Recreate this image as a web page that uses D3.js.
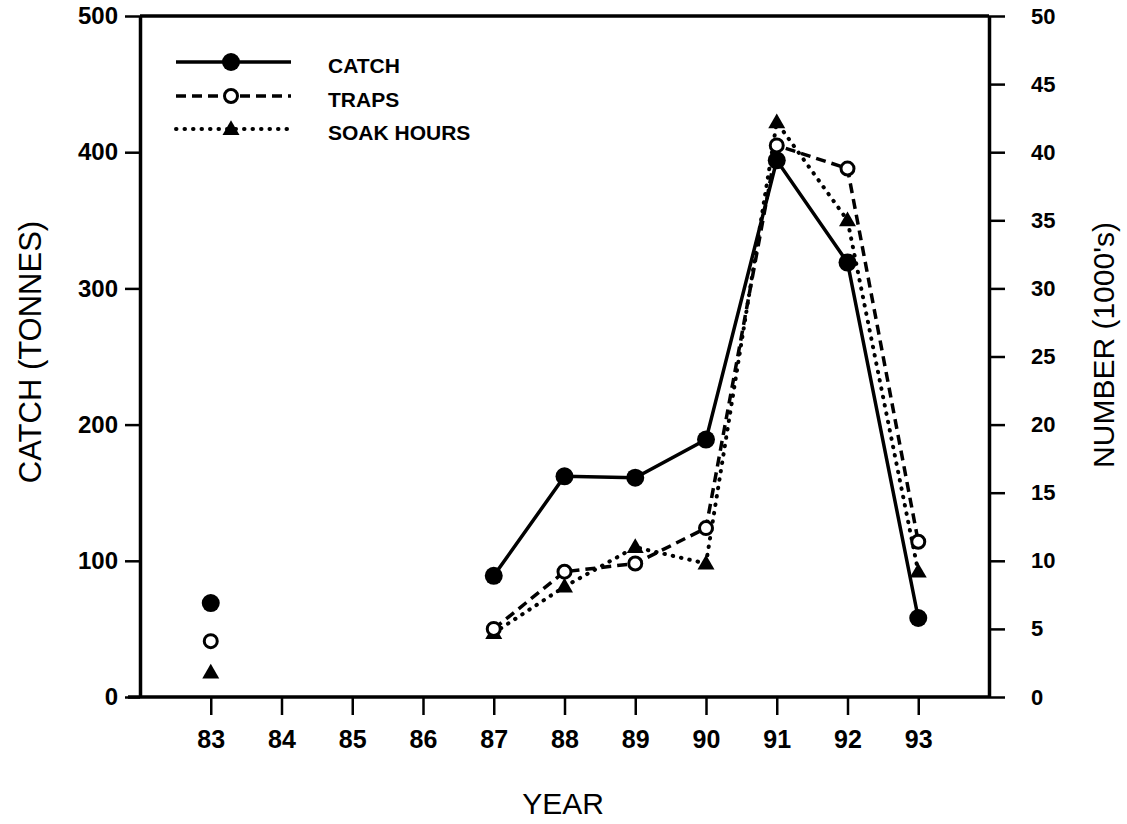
<!DOCTYPE html>
<html>
<head>
<meta charset="utf-8">
<script src="https://cdn.jsdelivr.net/npm/d3@7"></script>
<style>
  body { margin: 0; background: #fff; }
  svg { display: block; font-family: "Liberation Sans", Arial, sans-serif; }
</style>
</head>
<body>
<svg id="chart" width="1127" height="824"></svg>
<script>
// data
var years      = [83, 87, 88, 89, 90, 91, 92, 93];
var catchTons  = [69, 89, 162, 161, 189, 394, 319, 58];      // left axis, tonnes
var traps      = [4.1, 5.0, 9.2, 9.8, 12.4, 40.5, 38.8, 11.4]; // right axis, 1000's
var soakHours  = [1.8, 4.7, 8.1, 11.0, 9.8, 42.2, 35.0, 9.2]; // right axis, 1000's
var yearTicks  = [83, 84, 85, 86, 87, 88, 89, 90, 91, 92, 93];
var leftTicks  = [0, 100, 200, 300, 400, 500];
var rightTicks = [0, 5, 10, 15, 20, 25, 30, 35, 40, 45, 50];

var svg = d3.select("#chart");
var plotL = 140, plotR = 989, plotT = 16, plotB = 697;

var x = d3.scaleLinear().domain([82, 94]).range([plotL, plotR]);
var yL = d3.scaleLinear().domain([0, 500]).range([plotB, plotT]);
var yR = d3.scaleLinear().domain([0, 50]).range([plotB, plotT]);

// frame
svg.append("line").attr("x1", plotL).attr("x2", plotR).attr("y1", plotT).attr("y2", plotT)
    .attr("stroke", "#000").attr("stroke-width", 3.5);

var gL = svg.append("g").attr("transform", "translate(" + plotL + ",0)")
    .call(d3.axisLeft(yL).tickValues(leftTicks).tickSize(15).tickSizeOuter(0).tickPadding(7));
var gR = svg.append("g").attr("transform", "translate(" + plotR + ",0)")
    .call(d3.axisRight(yR).tickValues(rightTicks).tickSize(16).tickSizeOuter(0).tickPadding(26));
var gB = svg.append("g").attr("transform", "translate(0," + plotB + ")")
    .call(d3.axisBottom(x).tickValues(yearTicks).tickSize(18).tickSizeOuter(0).tickPadding(15));

[gL, gR, gB].forEach(function(g) {
    g.select(".domain").attr("stroke-width", 3.5);
    g.selectAll(".tick line").attr("stroke-width", 2.5);
    g.selectAll("text").attr("fill", "#000").style("font-weight", "bold")
        .style("font-family", "'Liberation Sans', Arial, sans-serif");
});
gL.selectAll("text").style("font-size", "24px");
gR.selectAll("text").style("font-size", "22px");
gB.selectAll("text").style("font-size", "25px");
gB.select(".domain").attr("d", "M" + (plotL - 12) + ",0H" + plotR);

// axis titles
svg.append("text").attr("transform", "translate(41,352) rotate(-90)")
    .attr("text-anchor", "middle").style("font-size", "31px").text("CATCH (TONNES)");
svg.append("text").attr("transform", "translate(1114,345) rotate(-90)")
    .attr("text-anchor", "middle").style("font-size", "30px").text("NUMBER (1000's)");
svg.append("text").attr("x", 563).attr("y", 814)
    .attr("text-anchor", "middle").style("font-size", "30px").text("YEAR");

// split into runs of consecutive years so 83 stands alone
function runs(vals) {
    var out = [], cur = [];
    years.forEach(function(yr, i) {
        if (i > 0 && yr - years[i - 1] > 1) { out.push(cur); cur = []; }
        cur.push([yr, vals[i]]);
    });
    out.push(cur);
    return out;
}

var series = [
    { name: "CATCH", vals: catchTons, y: yL, dash: null, marker: "dot" },
    { name: "TRAPS", vals: traps, y: yR, dash: "10,6", marker: "ring" },
    { name: "SOAK HOURS", vals: soakHours, y: yR, dash: "0.5,8", marker: "tri" }
];

function drawMarker(g, kind, cx, cy) {
    if (kind == "dot") {
        g.append("circle").attr("cx", cx).attr("cy", cy).attr("r", 9).attr("fill", "#000");
    } else if (kind == "ring") {
        g.append("circle").attr("cx", cx).attr("cy", cy).attr("r", 6.5)
            .attr("fill", "#fff").attr("stroke", "#000").attr("stroke-width", 3);
    } else {
        g.append("path").attr("d", d3.symbol().type(d3.symbolTriangle).size(125)())
            .attr("transform", "translate(" + cx + "," + (cy + 1) + ")").attr("fill", "#000");
    }
}

// draw lines back to front: soak, traps, catch
series.slice().reverse().forEach(function(s) {
    var line = d3.line().x(function(d) { return x(d[0]); }).y(function(d) { return s.y(d[1]); });
    var g = svg.append("g");
    runs(s.vals).forEach(function(r) {
        if (r.length < 2) return;
        g.append("path").attr("d", line(r)).attr("fill", "none").attr("stroke", "#000")
            .attr("stroke-width", s.marker == "tri" ? 4 : 3.5).attr("stroke-dasharray", s.dash)
            .attr("stroke-linecap", s.marker == "tri" ? "round" : "butt");
    });
    years.forEach(function(yr, i) { drawMarker(g, s.marker, x(yr), s.y(s.vals[i])); });
});

// legend
var legY = [62, 96, 129];
series.forEach(function(s, i) {
    var g = svg.append("g");
    g.append("line").attr("x1", 176).attr("x2", 291).attr("y1", legY[i]).attr("y2", legY[i])
        .attr("stroke", "#000").attr("stroke-width", s.marker == "tri" ? 4 : 3.5)
        .attr("stroke-dasharray", s.dash)
        .attr("stroke-linecap", s.marker == "tri" ? "round" : "butt");
    drawMarker(g, s.marker, 231, legY[i]);
    g.append("text").attr("x", 328).attr("y", legY[i] + 11).style("font-size", "21px")
        .style("font-weight", "bold").text(s.name);
});
</script>
</body>
</html>
